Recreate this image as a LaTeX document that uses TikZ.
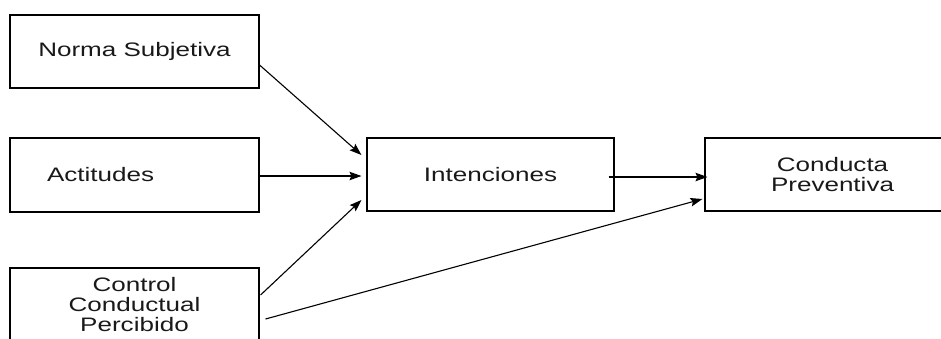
\documentclass[tikz,border=0pt]{standalone}
\usepackage{fontspec}
\setmainfont{Liberation Sans}
\usetikzlibrary{arrows.meta,calc}
\newcommand\hs[1]{\scalebox{1.335}[1]{#1}}
\begin{document}
\begin{tikzpicture}[x=1pt,y=-1pt,
  box/.style={draw, line width=1.1pt, inner sep=0pt, align=center,
    font=\fontsize{19.5}{20}\selectfont, text=black!90},
  arr/.style={-{Stealth[length=12pt,width=8.5pt,inset=2pt]}, line width=1.1pt}]
\useasboundingbox (0,0) rectangle (941,338);
\clip (0,0) rectangle (941,338);
\node[box, minimum width=249pt, minimum height=73pt] (ns) at (134.5,51.5) {\hs{Norma Subjetiva}};
\node[box, minimum width=249pt, minimum height=74pt, text width=175pt, align=left, inner xsep=37pt] (act) at (134.5,175) {\hs{Actitudes}};
\node[box, minimum width=249pt, minimum height=74pt] (ccp) at (134.5,305) {\hs{Control}\\\hs{Conductual}\\\hs{Percibido}};
\node[box, minimum width=247pt, minimum height=73pt] (int) at (490.5,174.5) {\hs{Intenciones}};
\node[box, minimum width=255pt, minimum height=73pt] (cp) at (832.5,174.5) {\hs{Conducta}\\\hs{Preventiva}};
\draw[arr] ($(ns.east)+(0,13.5)$) -- ($(int.west)+(-5,-19.5)$);
\draw[arr] ($(act.east)+(0,1)$) -- ($(int.west)+(-5,1.5)$);
\draw[arr] ($(ccp.east)+(1,-10)$) -- ($(int.west)+(-5,25.5)$);
\draw[arr] ($(int.east)+(-6,2.5)$) -- ($(cp.west)+(3,2.5)$);
\draw[arr] ($(ccp.east)+(6,14)$) -- ($(cp.west)+(-2,24.5)$);
\end{tikzpicture}
\end{document}
